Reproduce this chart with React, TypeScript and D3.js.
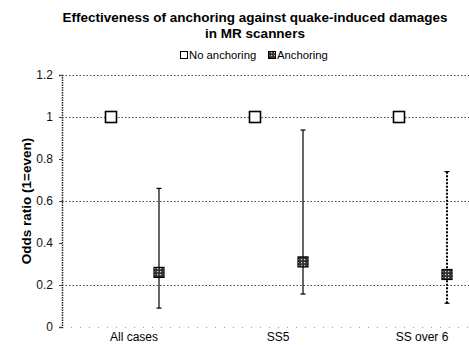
import { useEffect, useRef } from 'react'
import * as d3 from 'd3'

const categories = ['All cases', 'SS5', 'SS over 6']
const seriesNames = ['No anchoring', 'Anchoring']
const noAnchoring = [1.0, 1.0, 1.0]
const anchoring = [0.26, 0.31, 0.25]
const anchoringLow = [0.09, 0.157, 0.113]
const anchoringHigh = [0.66, 0.938, 0.74]
const yTicks = [0, 0.2, 0.4, 0.6, 0.8, 1, 1.2]
const gridValues = [0.2, 0.6, 1.0, 1.2]

export default function App() {
  const svgRef = useRef<SVGSVGElement>(null)

  useEffect(() => {
    if (!svgRef.current) return
    const svg = d3.select(svgRef.current)
    svg.selectAll('*').remove()

    const width = 469
    const height = 345
    const left = 62
    const top = 75
    const bottom = 327
    const right = 494
    const font = 'Liberation Sans, Arial, sans-serif'

    svg.attr('width', width).attr('height', height)
    svg.append('rect').attr('width', width).attr('height', height).attr('fill', '#fff')

    // crosshatch pattern for anchoring marker
    const defs = svg.append('defs')
    const pat = defs.append('pattern')
      .attr('id', 'hatch')
      .attr('width', 3)
      .attr('height', 3)
      .attr('patternUnits', 'userSpaceOnUse')
    pat.append('rect').attr('width', 3).attr('height', 3).attr('fill', '#333')
    pat.append('rect').attr('x', 1).attr('y', 1).attr('width', 1.2).attr('height', 1.2).attr('fill', '#ddd')

    const x0 = d3.scaleBand().domain(categories).range([left, right])
    const bw = x0.bandwidth()
    const x1 = d3.scalePoint().domain(seriesNames).range([bw / 2 - 23, bw / 2 + 25])
    const y = d3.scaleLinear().domain([0, 1.2]).range([bottom, top])

    // Title
    const title = svg.append('text')
      .attr('text-anchor', 'middle')
      .attr('font-family', font)
      .attr('font-weight', 'bold')
      .attr('font-size', 13.5)
    title.append('tspan').attr('x', 255).attr('y', 22).text('Effectiveness of anchoring against quake-induced damages')
    title.append('tspan').attr('x', 255).attr('y', 38).text('in MR scanners')

    // Legend
    const legend = svg.append('g').attr('font-family', font).attr('font-size', 11.3)
    legend.append('rect').attr('x', 180.5).attr('y', 51.5).attr('width', 7).attr('height', 7)
      .attr('fill', '#fff').attr('stroke', '#000').attr('stroke-width', 1)
    legend.append('text').attr('x', 189).attr('y', 59).text('No anchoring')
    legend.append('rect').attr('x', 268.5).attr('y', 51.5).attr('width', 7).attr('height', 7)
      .attr('fill', 'url(#hatch)').attr('stroke', '#000').attr('stroke-width', 1)
    legend.append('text').attr('x', 277).attr('y', 59).text('Anchoring')

    // Gridlines
    svg.append('g').selectAll('line').data(gridValues).join('line')
      .attr('x1', left).attr('x2', right)
      .attr('y1', d => Math.round(y(d)) + 0.5).attr('y2', d => Math.round(y(d)) + 0.5)
      .attr('stroke', '#444').attr('stroke-width', 1).attr('stroke-dasharray', '1.5,2')

    // Baseline (very faint)
    svg.append('line')
      .attr('x1', left).attr('x2', right)
      .attr('y1', bottom + 0.5).attr('y2', bottom + 0.5)
      .attr('stroke', '#999').attr('stroke-width', 1).attr('stroke-dasharray', '1,8')

    // Y axis
    const yAxis = d3.axisLeft(y).tickValues(yTicks)
      .tickFormat(d => d3.format('')(Math.round(+d * 10) / 10))
      .tickSize(3).tickPadding(6)
    const ya = svg.append('g').attr('transform', `translate(${left},0)`).call(yAxis)
    ya.select('.domain').attr('stroke', '#222').attr('stroke-width', 1.5).attr('stroke-dasharray', '1.5,1')
    ya.selectAll('.tick line').attr('stroke', '#444')
    ya.selectAll('.tick text').attr('font-family', font).attr('font-size', 12).attr('fill', '#111')

    // Y label
    svg.append('text')
      .attr('transform', `translate(31,${(top + bottom) / 2}) rotate(-90)`)
      .attr('text-anchor', 'middle')
      .attr('font-family', font)
      .attr('font-weight', 'bold')
      .attr('font-size', 13.5)
      .text('Odds ratio (1=even)')

    // X labels
    svg.append('g').selectAll('text').data(categories).join('text')
      .attr('x', d => (x0(d) || 0) + bw / 2)
      .attr('y', 340.5)
      .attr('text-anchor', 'middle')
      .attr('font-family', font)
      .attr('font-size', 12)
      .text(d => d)

    // Error bars for anchoring
    categories.forEach((c, i) => {
      const cx = (x0(c) || 0) + (x1('Anchoring') || 0)
      const dotted = i === 2
      svg.append('line')
        .attr('x1', cx).attr('x2', cx)
        .attr('y1', y(anchoringLow[i])).attr('y2', y(anchoringHigh[i]))
        .attr('stroke', '#000')
        .attr('stroke-width', dotted ? 2 : 1.2)
        .attr('stroke-dasharray', dotted ? '2,1.5' : null)
      ;[anchoringLow[i], anchoringHigh[i]].forEach(v => {
        svg.append('line')
          .attr('x1', cx - 2.5).attr('x2', cx + 2.5)
          .attr('y1', y(v)).attr('y2', y(v))
          .attr('stroke', '#000').attr('stroke-width', 1.2)
      })
    })

    // No anchoring markers
    categories.forEach((c, i) => {
      const cx = (x0(c) || 0) + (x1('No anchoring') || 0)
      svg.append('rect')
        .attr('x', cx - 5.5).attr('y', y(noAnchoring[i]) - 5.5)
        .attr('width', 11).attr('height', 11)
        .attr('fill', '#fff').attr('stroke', '#000').attr('stroke-width', 1.6)
    })

    // Anchoring markers
    categories.forEach((c, i) => {
      const cx = (x0(c) || 0) + (x1('Anchoring') || 0)
      svg.append('rect')
        .attr('x', cx - 5).attr('y', y(anchoring[i]) - 5)
        .attr('width', 10).attr('height', 10)
        .attr('fill', 'url(#hatch)').attr('stroke', '#000').attr('stroke-width', 1.2)
    })
  }, [])

  return <svg ref={svgRef} style={{ position: 'absolute', left: 0, top: 0, display: 'block' }} />
}
